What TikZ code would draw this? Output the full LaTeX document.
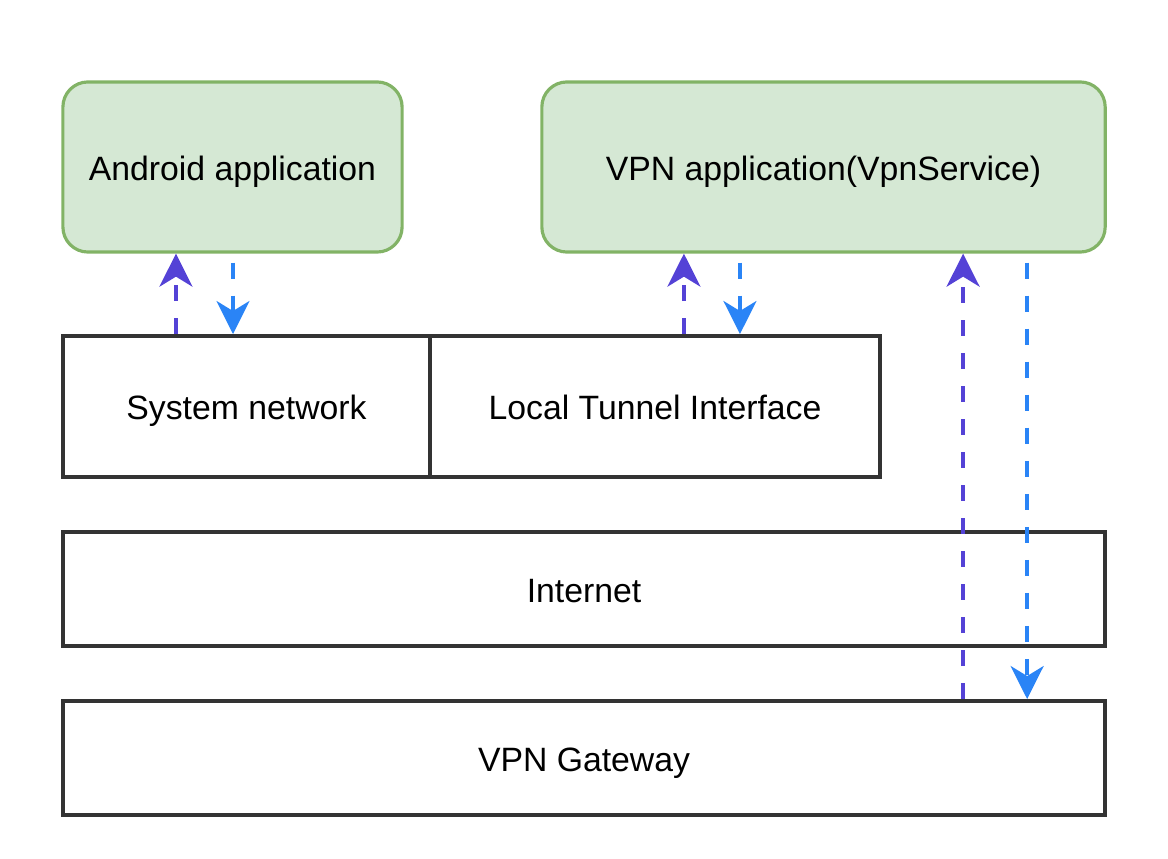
\documentclass[tikz,border=0pt]{standalone}
\usepackage{fontspec}
\setmainfont{Liberation Sans}
\usetikzlibrary{arrows.meta}
\definecolor{appfill}{HTML}{D5E8D4}
\definecolor{appline}{HTML}{82B366}
\definecolor{upcol}{RGB}{84,66,214}
\definecolor{downcol}{RGB}{42,132,246}
\begin{document}
\begin{tikzpicture}[%
            x=0.01cm, y=-0.01cm,
            every node/.style={font=\fontsize{9.6}{11}\selectfont, text height=7.4pt, text depth=0pt},
            myapp/.style={draw=appline, fill=appfill, line width=0.9pt, rounded corners=0.25cm, inner sep=0pt},
            mybox/.style={draw=black!80, line width=1.1pt, inner sep=0pt},
            myup/.style={draw=upcol, line width=1pt, dash pattern=on 0.16cm off 0.17cm,
                -{Stealth[length=0.33cm, width=0.33cm, inset=0.1cm, fill=upcol]}},
            mydown/.style={draw=downcol, line width=1pt, dash pattern=on 0.16cm off 0.17cm,
                -{Stealth[length=0.33cm, width=0.33cm, inset=0.1cm, fill=downcol]}}
    ]
        \useasboundingbox (0,0) rectangle (1168,858);

        \node [myapp, minimum width=3.39cm, minimum height=1.70cm] (android) at (232.5,167) {Android application};
        \node [myapp, minimum width=5.63cm, minimum height=1.70cm] (vpnapp) at (823.5,167) {VPN application(VpnService)};

        \node [mybox, minimum width=3.67cm, minimum height=1.41cm] (sysnet) at (246.5,406.5) {System network};
        \node [mybox, minimum width=4.50cm, minimum height=1.41cm] (tunnel) at (655,406.5) {Local Tunnel Interface};
        \node [mybox, minimum width=10.42cm, minimum height=1.14cm] (internet) at (584,589) {Internet};
        \node [mybox, minimum width=10.42cm, minimum height=1.14cm] (gateway) at (584,758) {VPN Gateway};

        % android <-> system network
        \coordinate (upA) at ([xshift=-0.565cm]android.south);
        \coordinate (dnA) at ([xshift=0.005cm, yshift=-0.09cm]android.south);
        \draw [myup] (upA |- sysnet.north) -- (upA);
        \draw [mydown] (dnA) -- (dnA |- sysnet.north);

        % vpn app <-> tunnel
        \coordinate (upB) at ([xshift=-1.395cm]vpnapp.south);
        \coordinate (dnB) at ([xshift=-0.835cm, yshift=-0.09cm]vpnapp.south);
        \draw [myup] (upB |- tunnel.north) -- (upB);
        \draw [mydown] (dnB) -- (dnB |- tunnel.north);

        % vpn app <-> gateway
        \coordinate (upC) at ([xshift=1.395cm]vpnapp.south);
        \coordinate (dnC) at ([xshift=2.035cm, yshift=-0.09cm]vpnapp.south);
        \draw [myup] (upC |- gateway.north) -- (upC);
        \draw [mydown] (dnC) -- (dnC |- gateway.north);
    \end{tikzpicture}
\end{document}
